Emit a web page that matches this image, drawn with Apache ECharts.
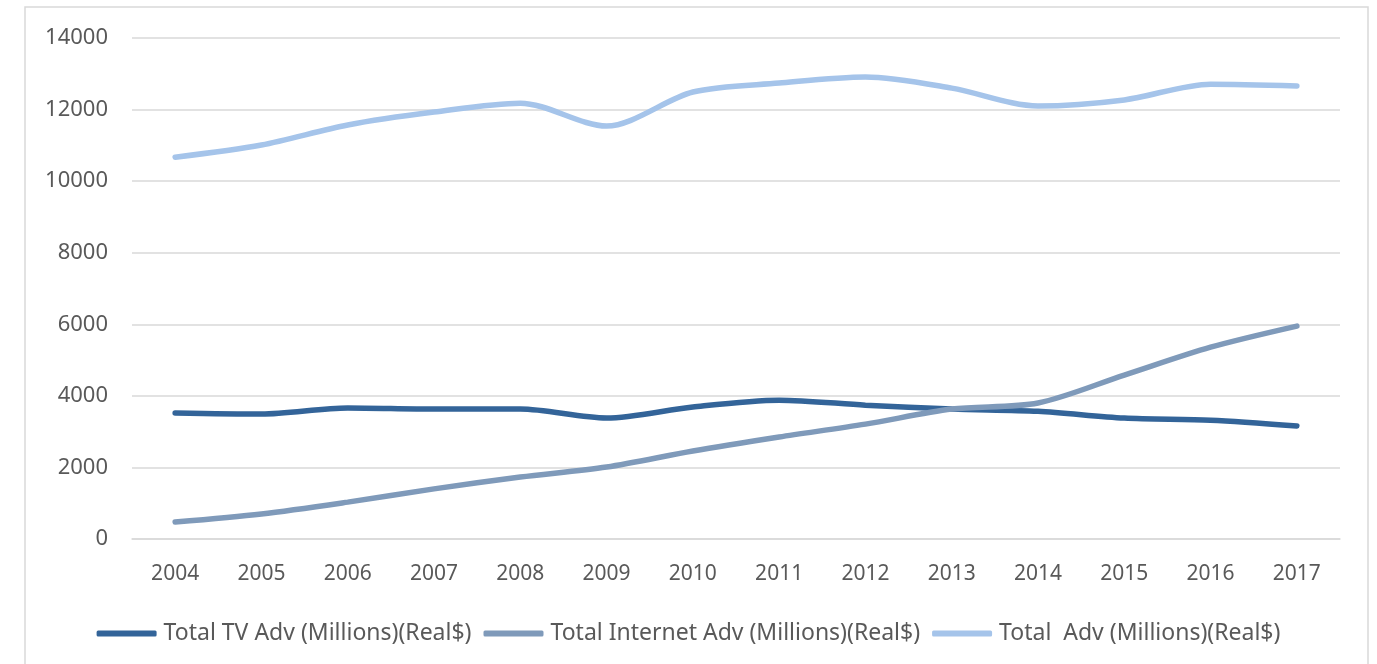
<!DOCTYPE html>
<html>
<head>
<meta charset="utf-8">
<script src="https://cdn.jsdelivr.net/npm/echarts@6/dist/echarts.min.js"></script>
<style>
  html, body { margin: 0; padding: 0; background: #fff; }
  #chart { width: 1377px; height: 664px; }
</style>
</head>
<body>
<div id="chart"></div>
<script>
const years = ['2004', '2005', '2006', '2007', '2008', '2009', '2010', '2011', '2012', '2013', '2014', '2015', '2016', '2017']
const tvAdv = [3520, 3490, 3660, 3630, 3630, 3380, 3690, 3880, 3740, 3630, 3570, 3380, 3320, 3160]
const internetAdv = [475, 700, 1030, 1400, 1730, 2010, 2460, 2850, 3210, 3630, 3800, 4580, 5360, 5950]
const totalAdv = [10670, 11010, 11570, 11930, 12180, 11540, 12490, 12740, 12910, 12600, 12100, 12270, 12710, 12660]

const chart = echarts.init(document.getElementById('chart'))

const lineSeries = (name, data, color) => ({
  name,
  type: 'line',
  data,
  smooth: 0.3,
  symbol: 'none',
  lineStyle: { width: 5.5, color, cap: 'round' },
  itemStyle: { color }
})

const option = {
  animation: false,
  textStyle: { fontFamily: 'Noto Sans' },
  graphic: [{
    type: 'rect',
    shape: { x: 25, y: 7, width: 1343, height: 680 },
    style: { fill: 'none', stroke: '#d9d9d9', lineWidth: 1.5 },
    silent: true
  }],
  grid: { left: 132, right: 37, top: 38, bottom: 125 },
  xAxis: {
    type: 'category',
    data: years,
    boundaryGap: true,
    axisLine: { show: true, lineStyle: { color: '#d9d9d9', width: 1.5 } },
    axisTick: { show: false },
    axisLabel: { color: '#595959', fontSize: 21, margin: 25 }
  },
  yAxis: {
    type: 'value',
    min: 0,
    max: 14000,
    interval: 2000,
    axisLine: { show: false },
    axisTick: { show: false },
    axisLabel: { color: '#595959', fontSize: 22, margin: 24, formatter: v => String(v) },
    splitLine: { lineStyle: { color: '#d9d9d9', width: 1.5 } }
  },
  legend: {
    bottom: 14,
    left: 'center',
    itemWidth: 60,
    itemHeight: 6,
    itemGap: 12,
    icon: 'roundRect',
    textStyle: { color: '#595959', fontSize: 23, padding: [0, 0, 0, 2] },
    data: ['Total TV Adv (Millions)(Real$)', 'Total Internet Adv (Millions)(Real$)', 'Total  Adv (Millions)(Real$)']
  },
  series: [
    lineSeries('Total TV Adv (Millions)(Real$)', tvAdv, '#336499'),
    lineSeries('Total Internet Adv (Millions)(Real$)', internetAdv, '#7f9aba'),
    lineSeries('Total  Adv (Millions)(Real$)', totalAdv, '#a5c4ea')
  ]
}

chart.setOption(option)
</script>
</body>
</html>
